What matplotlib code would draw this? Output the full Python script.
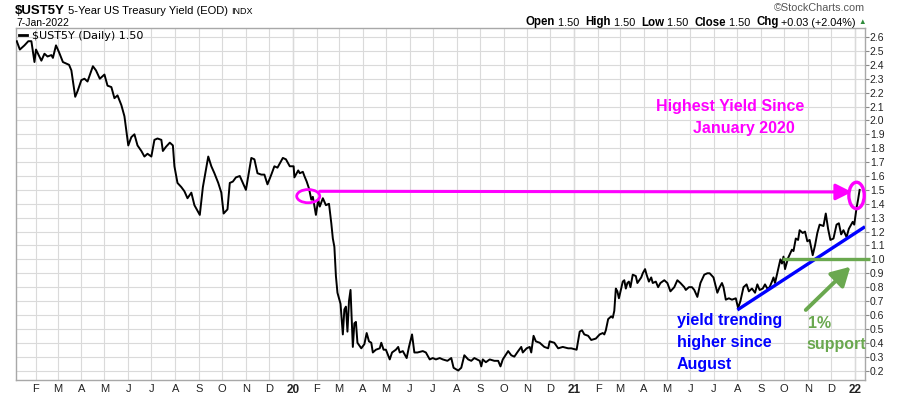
import matplotlib
matplotlib.use("Agg")

import matplotlib.pyplot as plt
import numpy as np
import pandas as pd
from matplotlib.patches import Ellipse

plt.rcParams["font.family"] = ["Liberation Sans", "DejaVu Sans"]

# 5-year treasury yield (month-day per year)
days_2019 = ["01-07", "01-11", "01-17", "01-22", "01-26", "01-30", "02-01", "02-08", "02-12", "02-16",
             "02-21", "02-23", "02-27", "03-03", "03-08", "03-12", "03-16", "03-19", "03-24", "03-27",
             "04-01", "04-05", "04-09", "04-16", "04-20", "04-25", "05-01", "05-05", "05-10", "05-14",
             "05-18", "05-23", "05-27", "06-01", "06-05", "06-09", "06-13", "06-18", "06-22", "06-26",
             "07-01", "07-05", "07-09", "07-14", "07-16", "07-20", "07-25", "07-29", "07-31", "08-04",
             "08-09", "08-13", "08-17", "08-22", "08-26", "09-02", "09-06", "09-13", "09-17", "09-21",
             "09-26", "09-30", "10-03", "10-08", "10-11", "10-15", "10-19", "10-24", "10-28", "11-01",
             "11-08", "11-12", "11-16", "11-21", "11-25", "11-29", "12-04", "12-08", "12-12", "12-19",
             "12-23", "12-28"]
yld_2019 = [2.57, 2.51, 2.54, 2.57, 2.57, 2.42, 2.51, 2.43, 2.48, 2.46,
            2.47, 2.45, 2.54, 2.49, 2.42, 2.41, 2.40, 2.36, 2.17, 2.21,
            2.29, 2.30, 2.28, 2.39, 2.36, 2.30, 2.33, 2.25, 2.24, 2.16,
            2.18, 2.11, 2.03, 1.82, 1.88, 1.90, 1.82, 1.78, 1.74, 1.76,
            1.74, 1.86, 1.87, 1.86, 1.78, 1.81, 1.84, 1.82, 1.67, 1.55,
            1.52, 1.49, 1.44, 1.48, 1.39, 1.32, 1.52, 1.74, 1.67, 1.62,
            1.55, 1.48, 1.33, 1.36, 1.55, 1.56, 1.59, 1.60, 1.55, 1.50,
            1.73, 1.72, 1.62, 1.61, 1.61, 1.54, 1.61, 1.67, 1.66, 1.73,
            1.72, 1.67]

days_2020 = ["01-02", "01-03", "01-08", "01-10", "01-14", "01-16", "01-19", "01-22", "01-25", "01-27",
             "01-31", "02-03", "02-05", "02-09", "02-13", "02-17", "02-20", "02-22", "02-24", "02-26",
             "02-28", "03-03", "03-06", "03-08", "03-10", "03-12", "03-14", "03-16", "03-19", "03-21",
             "03-23", "03-25", "03-30", "04-03", "04-06", "04-09", "04-12", "04-14", "04-18", "04-23",
             "04-25", "04-28", "05-01", "05-06", "05-09", "05-14", "05-17", "05-19", "05-23", "05-28",
             "05-31", "06-04", "06-07", "06-11", "06-18", "06-22", "06-27", "07-01", "07-05", "07-10",
             "07-14", "07-20", "07-25", "07-28", "08-03", "08-07", "08-11", "08-16", "08-20", "08-24",
             "08-31", "09-02", "09-04", "09-08", "09-13", "09-19", "09-24", "09-27", "09-30", "10-07",
             "10-11", "10-15", "10-20", "10-24", "10-26", "10-31", "11-04", "11-06", "11-09", "11-12",
             "11-17", "11-23", "11-28", "11-30", "12-06", "12-11", "12-17", "12-24", "12-28"]
yld_2020 = [1.67, 1.59, 1.64, 1.62, 1.63, 1.60, 1.56, 1.51, 1.43, 1.45,
            1.32, 1.43, 1.38, 1.44, 1.39, 1.40, 1.26, 1.15, 1.09, 0.88,
            0.76, 0.68, 0.46, 0.64, 0.66, 0.48, 0.70, 0.78, 0.37, 0.54,
            0.55, 0.40, 0.36, 0.39, 0.47, 0.41, 0.40, 0.33, 0.35, 0.36,
            0.40, 0.35, 0.35, 0.28, 0.33, 0.35, 0.37, 0.33, 0.34, 0.29,
            0.37, 0.46, 0.33, 0.33, 0.34, 0.33, 0.28, 0.29, 0.28, 0.29,
            0.28, 0.27, 0.29, 0.22, 0.20, 0.22, 0.31, 0.28, 0.27, 0.29,
            0.27, 0.23, 0.28, 0.26, 0.28, 0.27, 0.27, 0.23, 0.28, 0.34,
            0.31, 0.30, 0.34, 0.37, 0.33, 0.36, 0.37, 0.33, 0.45, 0.41,
            0.40, 0.37, 0.36, 0.41, 0.40, 0.36, 0.37, 0.36, 0.36]

days_2021 = ["01-04", "01-08", "01-11", "01-14", "01-19", "01-23", "01-29", "02-03", "02-07", "02-09",
             "02-11", "02-14", "02-18", "02-20", "02-22", "02-24", "02-26", "02-28", "03-03", "03-05",
             "03-07", "03-09", "03-11", "03-13", "03-15", "03-18", "03-22", "03-24", "03-29", "03-31",
             "04-03", "04-05", "04-08", "04-11", "04-13", "04-17", "04-20", "04-23", "04-28", "05-02",
             "05-06", "05-11", "05-15", "05-19", "05-24", "05-26", "05-30", "06-03", "06-06", "06-10",
             "06-14", "06-19", "06-23", "06-26", "07-01", "07-06", "07-09", "07-12", "07-14", "07-17",
             "07-21", "07-25", "07-30", "08-02", "08-05", "08-09", "08-13", "08-16", "08-20", "08-24",
             "08-27", "08-30", "09-03", "09-06", "09-09", "09-12", "09-15", "09-17", "09-19", "09-24",
             "09-26", "09-28", "09-30", "10-02", "10-06", "10-11", "10-13", "10-16", "10-19", "10-21",
             "10-25", "10-28", "10-31", "11-03", "11-07", "11-10", "11-13", "11-16", "11-21", "11-24",
             "11-27", "11-30", "12-04", "12-08", "12-11", "12-14", "12-17", "12-21", "12-24", "12-27",
             "12-29", "12-31"]
yld_2021 = [0.35, 0.48, 0.49, 0.46, 0.45, 0.42, 0.43, 0.46, 0.47, 0.46,
            0.49, 0.57, 0.59, 0.58, 0.63, 0.79, 0.77, 0.72, 0.79, 0.84,
            0.85, 0.79, 0.83, 0.84, 0.80, 0.89, 0.88, 0.83, 0.87, 0.90,
            0.93, 0.89, 0.84, 0.87, 0.83, 0.84, 0.80, 0.83, 0.85, 0.83,
            0.77, 0.80, 0.85, 0.83, 0.80, 0.78, 0.80, 0.80, 0.78, 0.73,
            0.83, 0.89, 0.90, 0.90, 0.87, 0.76, 0.80, 0.83, 0.80, 0.71,
            0.72, 0.71, 0.72, 0.65, 0.70, 0.80, 0.82, 0.77, 0.79, 0.76,
            0.82, 0.78, 0.79, 0.82, 0.79, 0.80, 0.84, 0.87, 0.83, 0.95,
            1.00, 0.97, 1.02, 0.93, 1.01, 1.07, 1.06, 1.15, 1.14, 1.21,
            1.19, 1.20, 1.13, 1.14, 1.03, 1.10, 1.19, 1.25, 1.24, 1.33,
            1.22, 1.14, 1.15, 1.25, 1.26, 1.18, 1.21, 1.16, 1.22, 1.25,
            1.27, 1.25]

days_2022 = ["01-03", "01-05", "01-07"]
yld_2022 = [1.37, 1.43, 1.50]

y_ticks = np.round(np.arange(0.2, 2.65, 0.1), 1)
month_letters = "JFMAMJJASOND"

dates = pd.to_datetime(["2019-" + d for d in days_2019] + ["2020-" + d for d in days_2020]
                       + ["2021-" + d for d in days_2021] + ["2022-" + d for d in days_2022])
yields = np.array(yld_2019 + yld_2020 + yld_2021 + yld_2022)

x_left, x_right = pd.Timestamp("2019-01-06"), pd.Timestamp("2022-01-14")

MAGENTA = "#ff00ff"
BLUE = "#0000ff"
GREEN = "#6aa84f"

W, H = 900, 396
fig = plt.figure(figsize=(W / 100, H / 100), dpi=100)
ax = fig.add_axes([16 / W, 1 - 380 / H, 849 / W, 352 / H])


def px(x, y):
    return x / W, 1 - y / H


ax.plot(dates, yields, color="black", lw=1.4, zorder=3)

ax.set_xlim(x_left, x_right)
ax.set_ylim(0.132, 2.665)

# month grid / labels
months = pd.date_range("2019-02-01", "2022-01-01", freq="MS")
ax.set_xticks(months)
labels = [f"{m.year % 100:02d}" if m.month == 1 else month_letters[m.month - 1] for m in months]
ax.set_xticklabels(labels, fontsize=8)
for lab, m in zip(ax.get_xticklabels(), months):
    if m.month == 1:
        lab.set_fontweight("bold")
        lab.set_fontsize(8.5)
ax.tick_params(axis="x", length=0, pad=3, colors="#222222")

ax.yaxis.tick_right()
ax.set_yticks(y_ticks)
ax.set_yticklabels([f"{v:.1f}" for v in y_ticks], fontsize=7.5)
ax.tick_params(axis="y", length=3, width=0.8, pad=0.5, color="#888888", labelcolor="#222222")

ax.grid(True, color="#dadada", lw=0.8, zorder=0)
for m in months:
    if m.month == 1:
        ax.axvline(m, color="#b8b8b8", lw=0.9, zorder=0)
for s in ax.spines.values():
    s.set_color("#a8a8a8")
    s.set_linewidth(1.0)

# legend
ax.plot([], [], color="black", lw=2, label="$UST5Y (Daily) 1.50")
leg = ax.legend(loc="upper left", frameon=False, handlelength=0.7, handletextpad=0.4,
                borderaxespad=0.1, borderpad=0.2, prop={"family": "DejaVu Sans", "size": 8})

# magenta: highest yield since January 2020
ax.add_patch(Ellipse((pd.Timestamp("2020-01-21"), 1.455), 30, 0.095, fill=False,
                     edgecolor=MAGENTA, lw=2, zorder=4))
ax.add_patch(Ellipse((pd.Timestamp("2022-01-03"), 1.46), 20, 0.19, fill=False,
                     edgecolor=MAGENTA, lw=2.4, zorder=4, clip_on=False))
ax.annotate("", xy=(pd.Timestamp("2021-12-28"), 1.485), xytext=(pd.Timestamp("2020-02-05"), 1.49),
            arrowprops=dict(arrowstyle="-|>,head_length=0.7,head_width=0.35", mutation_scale=14,
                            color=MAGENTA, lw=2.2, shrinkA=0, shrinkB=0), zorder=4)

# blue trend line since August
ax.plot([pd.Timestamp("2021-08-01"), x_right], [0.636, 1.235], color=BLUE, lw=2.4, zorder=4,
        solid_capstyle="butt")

# green 1% support
ax.plot([pd.Timestamp("2021-09-28"), x_right + pd.Timedelta(days=7)], [1.0, 1.0], color=GREEN,
        lw=2.4, zorder=4, clip_on=False, solid_capstyle="butt")
ax.annotate("", xy=(pd.Timestamp("2021-12-26"), 0.947), xytext=(pd.Timestamp("2021-10-29"), 0.636),
            arrowprops=dict(arrowstyle="-|>,head_length=0.8,head_width=0.45", mutation_scale=14,
                            color=GREEN, lw=2.8, shrinkA=0, shrinkB=0), zorder=4)

# annotation texts
fig.text(*px(656, 106), "Highest Yield Since", color=MAGENTA, fontsize=11.5, fontweight="bold",
         ha="left", va="center")
fig.text(*px(693, 128), "January 2020", color=MAGENTA, fontsize=11.5, fontweight="bold",
         ha="left", va="center")
for i, line in enumerate(["yield trending", "higher since", "August"]):
    fig.text(*px(677, 321 + 22 * i), line, color=BLUE, fontsize=11.5, fontweight="bold",
             ha="left", va="center")
fig.text(*px(808, 323), "1%", color=GREEN, fontsize=11.5, fontweight="bold", ha="left", va="center")
fig.text(*px(806, 345), "support", color=GREEN, fontsize=11.5, fontweight="bold", ha="left", va="center")

fig.canvas.draw()
renderer = fig.canvas.get_renderer()

# header, laid out left to right
x_cur = 15 / W
for txt, size, weight in [("$UST5Y", 9.5, "bold"), (" 5-Year US Treasury Yield (EOD) ", 8, "normal"),
                          ("INDX", 6.5, "normal")]:
    t = fig.text(x_cur, 1 - 11 / H, txt, fontsize=size, fontweight=weight, ha="left", va="center")
    x_cur += t.get_window_extent(renderer).width / W
fig.text(*px(16, 23.5), "7-Jan-2022", fontsize=7.5, ha="left", va="center")
fig.text(*px(865, 8), "\u00a9StockCharts.com", fontsize=7.8, color="#555555", ha="right", va="center")

# Open/High/Low/Close line, laid out right to left
pieces = [("Open", True), (" 1.50  ", False), ("High", True), (" 1.50  ", False), ("Low", True),
          (" 1.50  ", False), ("Close", True), (" 1.50  ", False), ("Chg", True), (" +0.03 (+2.04%)", False)]
x_cur = 856 / W
for txt, bold in reversed(pieces):
    t = fig.text(x_cur, 1 - 22.5 / H, txt, fontsize=8.3 if bold else 7.8,
                 fontweight="bold" if bold else "normal", ha="right", va="center")
    x_cur -= t.get_window_extent(renderer).width / W
fig.text(*px(862, 22), "\u25b2", fontsize=5.5, color="#2e8b3a", ha="center", va="center")

fig.savefig("out.png", dpi=100)
plt.close(fig)
